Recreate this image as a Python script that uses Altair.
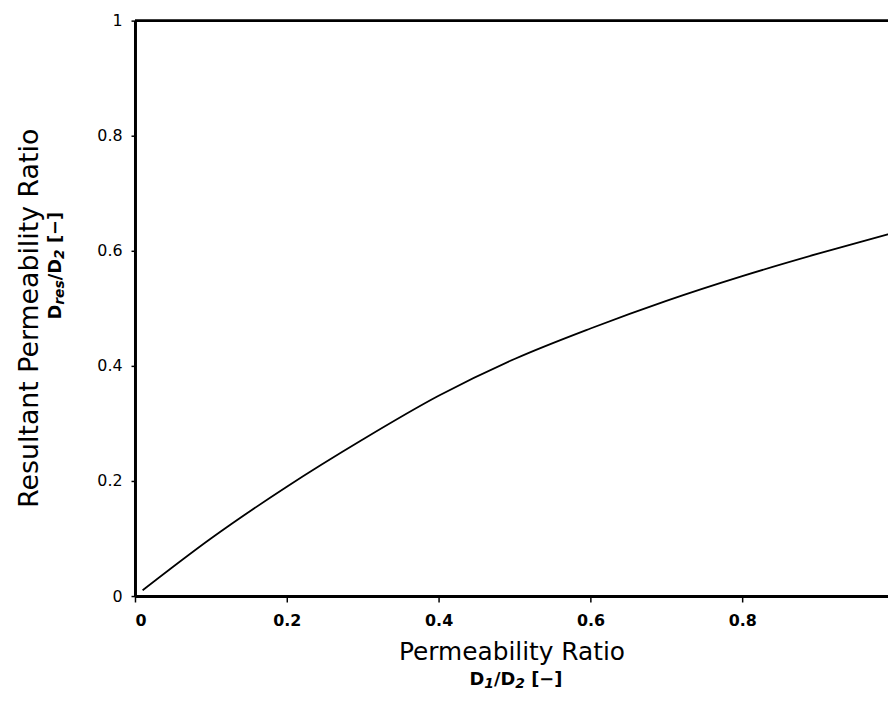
import altair as alt
import pandas as pd

# Curve
ratio_x = [0.01, 0.1, 0.2, 0.3, 0.4, 0.5, 0.6, 0.7, 0.8, 0.9, 0.993]
ratio_y = [0.010, 0.100, 0.190, 0.272, 0.348, 0.412, 0.465, 0.513, 0.556, 0.595, 0.629]

x_ticks = [0, 0.2, 0.4, 0.6, 0.8]
y_ticks = [0, 0.2, 0.4, 0.6, 0.8, 1]

x_title = "Permeability Ratio"
y_title = "Resultant Permeability Ratio"
# subtitle pieces: (text, is_subscript, gap before in em)
x_sub = [("D", False, 0), ("1", True, 0), ("/D", False, 0), ("2", True, 0), ("[−]", False, 0.35)]
y_sub = [("D", False, 0), ("res", True, 0), ("/D", False, 0), ("2", True, 0), ("[−]", False, 0.35)]

W, H = 759, 580
FONT = "DejaVu Sans"
MAIN, SUB = 18, 14

# approximate advance widths (em) of DejaVu Sans Bold
ADV = {"D": 0.828, "r": 0.493, "e": 0.678, "s": 0.595, "/": 0.364, "1": 0.696,
       "2": 0.696, "[": 0.457, "]": 0.457, "−": 0.838}

df = pd.DataFrame({"x": ratio_x, "y": ratio_y})
one = pd.DataFrame({"k": [0]})

xscale = alt.Scale(domain=[0, 0.992], nice=False, zero=False)
yscale = alt.Scale(domain=[0, 1], nice=False)

line = alt.Chart(df).mark_line(color="black", strokeWidth=1.8, interpolate="monotone", clip=True).encode(
    x=alt.X("x:Q", scale=xscale,
            axis=alt.Axis(values=x_ticks, format="~g", title=None, grid=False,
                          domainWidth=3, domainColor="black", tickColor="black",
                          tickSize=6, tickWidth=1.5, labelFont=FONT, labelFontSize=16,
                          labelFontWeight="bold", labelColor="black", labelPadding=11)),
    y=alt.Y("y:Q", scale=yscale,
            axis=alt.Axis(values=y_ticks, format="~g", title=None, grid=False,
                          domainWidth=3, domainColor="black", tickColor="black",
                          tickSize=4, tickWidth=1.5, labelFont=FONT, labelFontSize=16,
                          labelColor="black", labelPadding=9)),
)

top = alt.Chart(one).mark_rule(color="black", strokeWidth=3).encode(
    x=alt.value(0), x2=alt.value(W), y=alt.value(0)
)

def txt(text, x, y, size, angle=0, weight="normal"):
    return alt.Chart(one).mark_text(
        text=text, font=FONT, fontSize=size, angle=angle, fontWeight=weight,
        color="black", align="center", baseline="middle"
    ).encode(x=alt.value(x), y=alt.value(y))

def composed(pieces, cx, cy, angle=0):
    widths, gaps = [], []
    for t, sub, gap in pieces:
        s = SUB if sub else MAIN
        widths.append(sum(ADV.get(c, 0.6) for c in t) * s)
        gaps.append(gap * MAIN)
    total = sum(widths) + sum(gaps)
    layers = []
    off = -total / 2
    for (t, sub, _), w, g in zip(pieces, widths, gaps):
        off += g
        layers.append(
            alt.Chart(one).mark_text(
                text=t, font=FONT, fontSize=SUB if sub else MAIN, fontWeight="bold",
                fontStyle="italic" if sub else "normal", angle=angle,
                color="black", align="left", baseline="alphabetic",
                dx=off, dy=(9 if sub else 6)
            ).encode(x=alt.value(cx), y=alt.value(cy))
        )
        off += w
    return layers

chart = alt.layer(
    line,
    top,
    txt(x_title, 380, 636, 25),
    txt(y_title, -106, 300, 27, angle=270),
    *composed(x_sub, 384, 664),
    *composed(y_sub, -81, 247, angle=270),
).properties(
    width=W, height=H,
    autosize=alt.AutoSizeParams(type="none"),
    padding={"left": 128, "top": 10, "right": 0, "bottom": 95},
).configure_view(stroke=None).configure(background="white")

chart.save("out.html", embed_options={"renderer": "svg", "actions": False})
